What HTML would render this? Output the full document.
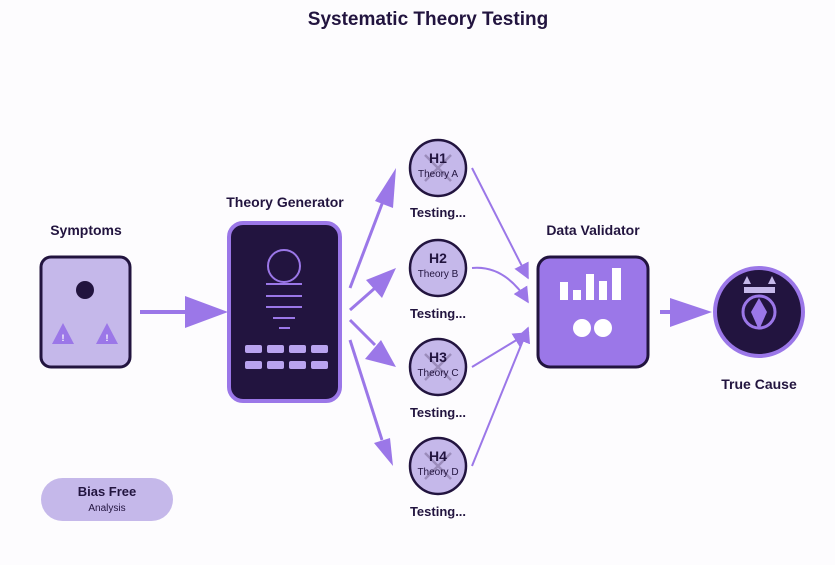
<!DOCTYPE html>
<html><head><meta charset="utf-8"><style>body{margin:0;background:#fdfcfe}svg{display:block}text{font-family:"Liberation Sans",Arial,sans-serif}</style></head><body>
<svg width="835" height="565" viewBox="0 0 835 565">
<rect width="835" height="565" fill="#fdfcfe"/>
<text x="428" y="25" text-anchor="middle" font-size="19" font-weight="bold" fill="#22143f">Systematic Theory Testing</text>
<defs>
<marker id="big" markerWidth="12" markerHeight="10" refX="11" refY="5" orient="auto" markerUnits="userSpaceOnUse" viewBox="0 0 12 10"><path d="M0,0L12,5L0,10z" fill="#9b77e8"/></marker>
<marker id="sm" viewBox="0 0 10 10" refX="9" refY="5" markerWidth="16" markerHeight="16" orient="auto" markerUnits="userSpaceOnUse"><path d="M0,0L10,5L0,10z" fill="#9b77e8"/></marker>
</defs>
<!-- Symptoms -->
<text x="86" y="235" text-anchor="middle" font-size="14" font-weight="bold" fill="#22143f">Symptoms</text>
<rect x="41" y="257" width="89" height="110" rx="10" fill="#c5b8ea" stroke="#22143f" stroke-width="3"/>
<circle cx="85" cy="290" r="9" fill="#22143f"/>
<path d="M63,323L74,344L52,344z" fill="#9b77e8"/><text x="63" y="341" text-anchor="middle" font-size="9" font-weight="bold" fill="#fff">!</text>
<path d="M107,323L118,344L96,344z" fill="#9b77e8"/><text x="107" y="341" text-anchor="middle" font-size="9" font-weight="bold" fill="#fff">!</text>
<line x1="140" y1="312" x2="190" y2="312" stroke="#9b77e8" stroke-width="4"/>
<path d="M185,296L228,312L185,328z" fill="#9b77e8"/>
<!-- Generator -->
<text x="285" y="207" text-anchor="middle" font-size="14" font-weight="bold" fill="#22143f">Theory Generator</text>
<rect x="229" y="223" width="111" height="178" rx="14" fill="#22143f" stroke="#9b77e8" stroke-width="4"/>
<g stroke="#9b77e8" stroke-width="2" fill="none">
<circle cx="284" cy="266" r="16"/>
<line x1="266" y1="284" x2="302" y2="284"/><line x1="266" y1="296" x2="302" y2="296"/><line x1="266" y1="307" x2="302" y2="307"/><line x1="273" y1="318" x2="295" y2="318"/><line x1="279" y1="328" x2="290" y2="328"/>
</g>
<g fill="#b9a3ef">
<rect x="245" y="345" width="17" height="8" rx="2"/><rect x="267" y="345" width="17" height="8" rx="2"/><rect x="289" y="345" width="17" height="8" rx="2"/><rect x="311" y="345" width="17" height="8" rx="2"/>
<rect x="245" y="361" width="17" height="8" rx="2"/><rect x="267" y="361" width="17" height="8" rx="2"/><rect x="289" y="361" width="17" height="8" rx="2"/><rect x="311" y="361" width="17" height="8" rx="2"/>
</g>
<!-- generator arrows -->
<g stroke="#9b77e8" stroke-width="3" fill="none">
<line x1="350" y1="288" x2="385" y2="196"/>
<line x1="350" y1="310" x2="375" y2="288"/>
<line x1="350" y1="320" x2="375" y2="345"/>
<line x1="350" y1="340" x2="382" y2="440"/>
</g>
<path d="M396,168L393,208L375,201z" fill="#9b77e8"/>
<path d="M396,268L382,298L366,280z" fill="#9b77e8"/>
<path d="M396,367L365,359L381,340z" fill="#9b77e8"/>
<path d="M393,466L374,443L390,438z" fill="#9b77e8"/>
<!-- to validator -->
<g stroke="#9b77e8" stroke-width="2" fill="none" marker-end="url(#sm)">
<path d="M472,168 L528,278"/>
<path d="M472,268 Q505,265 528,302"/>
<path d="M472,367 L528,333"/>
<path d="M472,466 L528,328"/>
</g>
<!-- hypotheses -->
<g font-size="10" fill="#22143f" text-anchor="middle">
<circle cx="438" cy="168" r="28" fill="#c5b8ea" stroke="#22143f" stroke-width="2.5"/>
<path d="M425,155L451,181M451,155L425,181" stroke="#8a7aa8" stroke-width="2.5" opacity="0.7"/>
<text x="438" y="163" font-size="14" font-weight="bold">H1</text><text x="438" y="177">Theory A</text>
<circle cx="438" cy="268" r="28" fill="#c5b8ea" stroke="#22143f" stroke-width="2.5"/>
<text x="438" y="263" font-size="14" font-weight="bold">H2</text><text x="438" y="277">Theory B</text>
<circle cx="438" cy="367" r="28" fill="#c5b8ea" stroke="#22143f" stroke-width="2.5"/>
<path d="M425,354L451,380M451,354L425,380" stroke="#8a7aa8" stroke-width="2.5" opacity="0.7"/>
<text x="438" y="362" font-size="14" font-weight="bold">H3</text><text x="438" y="376">Theory C</text>
<circle cx="438" cy="466" r="28" fill="#c5b8ea" stroke="#22143f" stroke-width="2.5"/>
<path d="M425,453L451,479M451,453L425,479" stroke="#8a7aa8" stroke-width="2.5" opacity="0.7"/>
<text x="438" y="461" font-size="14" font-weight="bold">H4</text><text x="438" y="475">Theory D</text>
<g font-size="13" font-weight="bold">
<text x="438" y="217">Testing...</text><text x="438" y="318">Testing...</text><text x="438" y="417">Testing...</text><text x="438" y="516">Testing...</text>
</g>
</g>
<!-- validator -->
<text x="593" y="235" text-anchor="middle" font-size="14" font-weight="bold" fill="#22143f">Data Validator</text>
<rect x="538" y="257" width="110" height="110" rx="12" fill="#9b77e8" stroke="#22143f" stroke-width="3"/>
<g fill="#fff">
<rect x="560" y="282" width="8" height="18"/><rect x="573" y="290" width="8" height="10"/><rect x="586" y="274" width="8" height="26"/><rect x="599" y="281" width="8" height="19"/><rect x="612" y="268" width="9" height="32"/>
<circle cx="582" cy="328" r="9"/><circle cx="603" cy="328" r="9"/>
</g>
<line x1="660" y1="312" x2="675" y2="312" stroke="#9b77e8" stroke-width="4"/>
<path d="M670,298L712,312L670,327z" fill="#9b77e8"/>
<!-- true cause -->
<circle cx="759" cy="312" r="44" fill="#22143f" stroke="#9b77e8" stroke-width="4"/>
<path d="M747,276L751,284L743,284z M772,276L776,284L768,284z" fill="#c5b8ea"/>
<rect x="744" y="287" width="31" height="6" fill="#c5b8ea"/>
<circle cx="759" cy="312" r="16" fill="none" stroke="#9b77e8" stroke-width="3"/>
<path d="M759,298L767,312L759,330L751,312z" fill="#9b77e8"/>
<text x="759" y="389" text-anchor="middle" font-size="14" font-weight="bold" fill="#22143f">True Cause</text>
<!-- bias free -->
<rect x="41" y="478" width="132" height="43" rx="21.5" fill="#c5b8ea"/>
<text x="107" y="496" text-anchor="middle" font-size="13" font-weight="bold" fill="#22143f">Bias Free</text>
<text x="107" y="511" text-anchor="middle" font-size="10" fill="#22143f">Analysis</text>
</svg>
</body></html>
